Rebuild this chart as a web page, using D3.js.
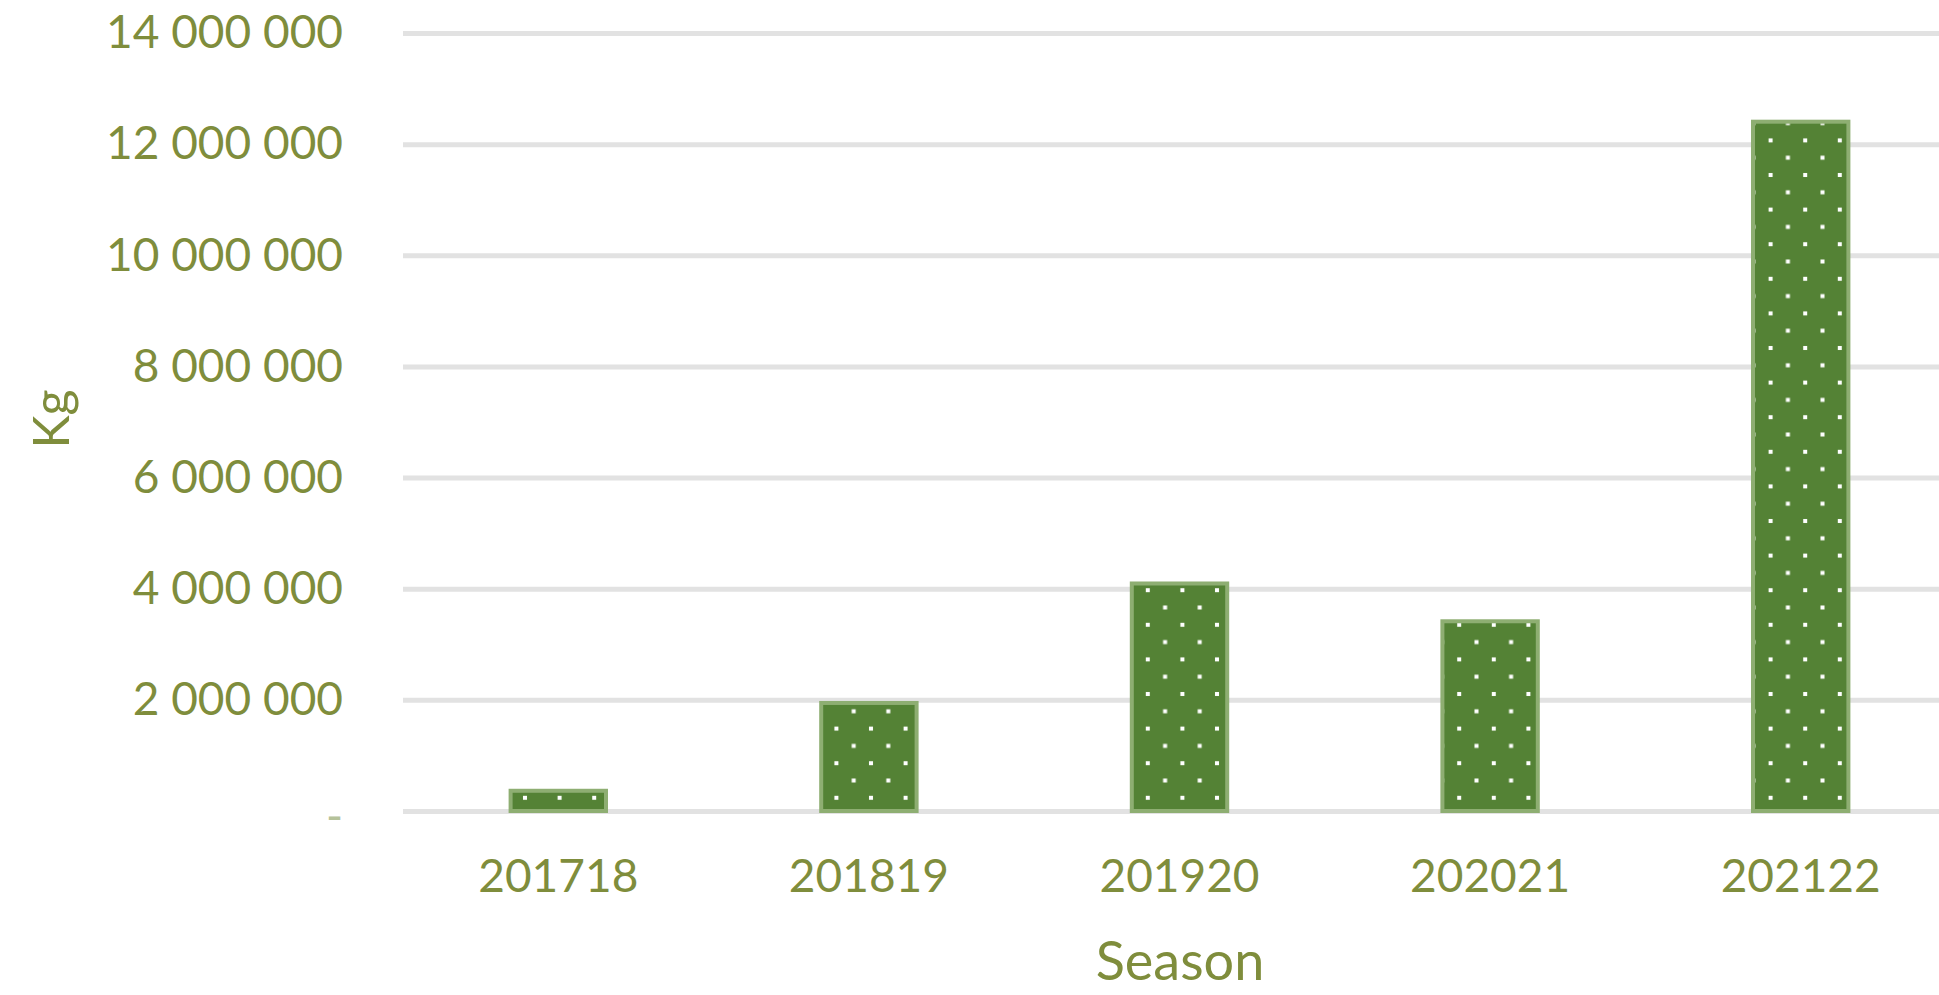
<!DOCTYPE html>
<html>
<head>
<meta charset="utf-8">
<script src="https://cdn.jsdelivr.net/npm/d3@7"></script>
<style>
  html, body { margin: 0; padding: 0; background: #fff; overflow: hidden; }
  text { font-family: Lato, "Open Sans", sans-serif; }
</style>
</head>
<body>
<svg id="chart"></svg>
<script>
// chart data
var seasons = ["201718", "201819", "201920", "202021", "202122"];
var kgValues = [400000, 1980000, 4130000, 3450000, 12440000];
var yTicks = [0, 2000000, 4000000, 6000000, 8000000, 10000000, 12000000, 14000000];

var width = 1939;
var height = 995;
var textColour = "#7f8d3c";
var barColour = "#548235";

var svg = d3.select("#chart").attr("width", width).attr("height", height);

var x = d3.scaleBand().domain(seasons).range([403, 1956]).paddingInner(0.68).paddingOuter(0.34);
var y = d3.scaleLinear().domain([0, 14000000]).range([811, 33]);

// dotted fill
var defs = svg.append("defs");
var pat = defs.append("pattern").attr("id", "dots").attr("patternUnits", "userSpaceOnUse")
    .attr("x", 6).attr("y", 2).attr("width", 34.6).attr("height", 34.6);
pat.append("rect").attr("width", 34.6).attr("height", 34.6).attr("fill", barColour);
var dotPos = [[0, 0], [34.6, 0], [0, 34.6], [34.6, 34.6], [17.3, 17.3]];
pat.selectAll(".dot").data(dotPos).enter().append("rect").attr("class", "dot")
    .attr("x", function(d) { return d[0] - 2; })
    .attr("y", function(d) { return d[1] - 2; })
    .attr("width", 4).attr("height", 4).attr("fill", "#fff");

var fmt = function(d) {
    if (d === 0) return "-";
    return d3.format(",")(d).replace(/,/g, " ");
};

// y axis + gridlines
var yAxis = svg.append("g").attr("transform", "translate(403,0)")
    .call(d3.axisLeft(y).tickValues(yTicks).tickFormat(fmt).tickSize(-(width - 403)).tickPadding(60));
yAxis.select(".domain").remove();
yAxis.selectAll(".tick line").attr("stroke", "#e2e2e2").attr("stroke-width", 5);
yAxis.selectAll(".tick text").attr("fill", textColour).attr("font-size", 46)
    .attr("font-family", "Lato, 'Open Sans', sans-serif");
yAxis.selectAll(".tick text").filter(function(d) { return d === 0; }).attr("dy", "0.45em").attr("fill", "#b5c29a");

// bars
svg.append("g").selectAll(".bar").data(seasons)
    .enter().append("rect").attr("class", "bar")
    .attr("x", function(d) { return x(d) + 2; })
    .attr("y", function(d, i) { return y(kgValues[i]) + 2; })
    .attr("width", x.bandwidth() - 4)
    .attr("height", function(d, i) { return y(0) - y(kgValues[i]) - 2; })
    .attr("fill", "url(#dots)")
    .attr("stroke", "#8eae72")
    .attr("stroke-width", 4);

// x axis
var xAxis = svg.append("g").attr("transform", "translate(0,811)")
    .call(d3.axisBottom(x).tickSize(0).tickPadding(48));
xAxis.select(".domain").remove();
xAxis.selectAll(".tick text").attr("fill", textColour).attr("font-size", 46)
    .attr("font-family", "Lato, 'Open Sans', sans-serif");

// axis titles
svg.append("text").attr("x", 1180).attr("y", 980).attr("text-anchor", "middle")
    .attr("fill", textColour).attr("font-size", 54).text("Season");
svg.append("text").attr("transform", "translate(69,419) rotate(-90)").attr("text-anchor", "middle")
    .attr("fill", textColour).attr("font-size", 50).text("Kg");
</script>
</body>
</html>
